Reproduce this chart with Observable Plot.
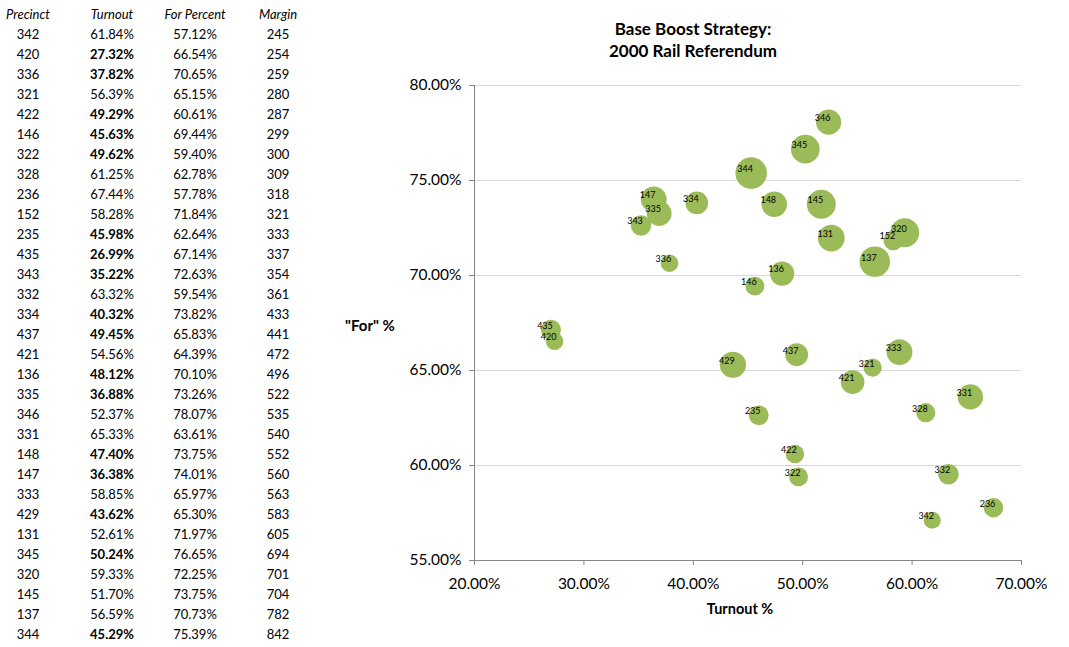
<!DOCTYPE html>
<html>
<head>
<meta charset="utf-8">
<script src="https://cdn.jsdelivr.net/npm/d3@7"></script>
<script src="https://cdn.jsdelivr.net/npm/@observablehq/plot@0.6"></script>
<style>
  html, body { margin: 0; padding: 0; background: #fff; }
  #page { position: relative; width: 1069px; height: 647px; overflow: hidden; font-family: Lato, "Open Sans", sans-serif; color: #000; }
  .cell { position: absolute; width: 90px; margin-left: -45px; text-align: center; font-size: 13px; line-height: 20px; height: 20px; white-space: nowrap; }
  .hdr { font-style: italic; }
  #title { position: absolute; left: 493px; width: 400px; top: 18px; text-align: center; font-weight: bold; font-size: 17px; line-height: 22px; }
  #chart { position: absolute; left: 330px; top: 0; }
  #ylab { position: absolute; left: 340px; top: 316px; font-weight: bold; font-size: 15px; width: 60px; text-align: center; }
  #xlab { position: absolute; left: 690px; top: 600px; font-weight: bold; font-size: 14.5px; width: 100px; text-align: center; }
</style>
</head>
<body>
<div id="page">
  <div id="table"></div>
  <div id="title">Base Boost Strategy:<br>2000 Rail Referendum</div>
  <div id="chart"></div>
  <div id="ylab">"For" %</div>
  <div id="xlab">Turnout %</div>
</div>
<script>
const headers = ["Precinct", "Turnout", "For Percent", "Margin"];
const precinct = [342,420,336,321,422,146,322,328,236,152,235,435,343,332,334,437,421,136,335,346,331,148,147,333,429,131,345,320,145,137,344];
const turnout = [61.84,27.32,37.82,56.39,49.29,45.63,49.62,61.25,67.44,58.28,45.98,26.99,35.22,63.32,40.32,49.45,54.56,48.12,36.88,52.37,65.33,47.40,36.38,58.85,43.62,52.61,50.24,59.33,51.70,56.59,45.29];
const forPct = [57.12,66.54,70.65,65.15,60.61,69.44,59.40,62.78,57.78,71.84,62.64,67.14,72.63,59.54,73.82,65.83,64.39,70.10,73.26,78.07,63.61,73.75,74.01,65.97,65.30,71.97,76.65,72.25,73.75,70.73,75.39];
const margin = [245,254,259,280,287,299,300,309,318,321,333,337,354,361,433,441,472,496,522,535,540,552,560,563,583,605,694,701,704,782,842];
const xTicks = [0.20,0.30,0.40,0.50,0.60,0.70];
const yTicks = [0.55,0.60,0.65,0.70,0.75,0.80];

const data = precinct.map((p, i) => ({
  precinct: p,
  turnout: turnout[i] / 100,
  forPct: forPct[i] / 100,
  margin: margin[i]
}));

// Table
const colX = [28, 112, 195, 278];
const table = document.getElementById("table");
headers.forEach((h, j) => {
  const d = document.createElement("div");
  d.className = "cell hdr";
  d.style.left = colX[j] + "px";
  d.style.top = "4px";
  d.textContent = h;
  table.appendChild(d);
});
data.forEach((r, i) => {
  const vals = [String(r.precinct), turnout[i].toFixed(2) + "%", forPct[i].toFixed(2) + "%", String(r.margin)];
  vals.forEach((v, j) => {
    const d = document.createElement("div");
    d.className = "cell";
    d.style.left = colX[j] + "px";
    d.style.top = (24 + i * 20) + "px";
    if (j === 1 && turnout[i] < 51) d.style.fontWeight = "bold";
    d.textContent = v;
    table.appendChild(d);
  });
});

const fmt = d3.format(".2%");
const chart = Plot.plot({
  width: 739,
  height: 647,
  marginTop: 85,
  marginBottom: 87,
  marginLeft: 144,
  marginRight: 48,
  style: { fontFamily: "Lato, 'Open Sans', sans-serif", background: "transparent" },
  x: { domain: [0.2, 0.7] },
  y: { domain: [0.55, 0.80] },
  r: { domain: [0, 842], range: [0, 15.8] },
  marks: [
    Plot.ruleY(yTicks.slice(1), { stroke: "#d9d9d9", strokeWidth: 1 }),
    Plot.axisY({ ticks: yTicks, tickFormat: fmt, tickSize: 5, tickPadding: 8, fontSize: 15.5, stroke: "#868686", label: null }),
    Plot.axisX({ ticks: xTicks, tickFormat: fmt, tickSize: 5, tickPadding: 12, fontSize: 15.5, stroke: "#868686", label: null }),
    Plot.ruleX([0.2], { stroke: "#868686" }),
    Plot.ruleY([0.55], { stroke: "#868686" }),
    Plot.dot(data, { x: "turnout", y: "forPct", r: "margin", fill: "#9BBB59", stroke: "none" }),
    Plot.text(data, { x: "turnout", y: "forPct", text: d => String(d.precinct), dx: -6, dy: -4, fontSize: 9, fill: "#000" })
  ]
});
document.getElementById("chart").appendChild(chart);
</script>
</body>
</html>
